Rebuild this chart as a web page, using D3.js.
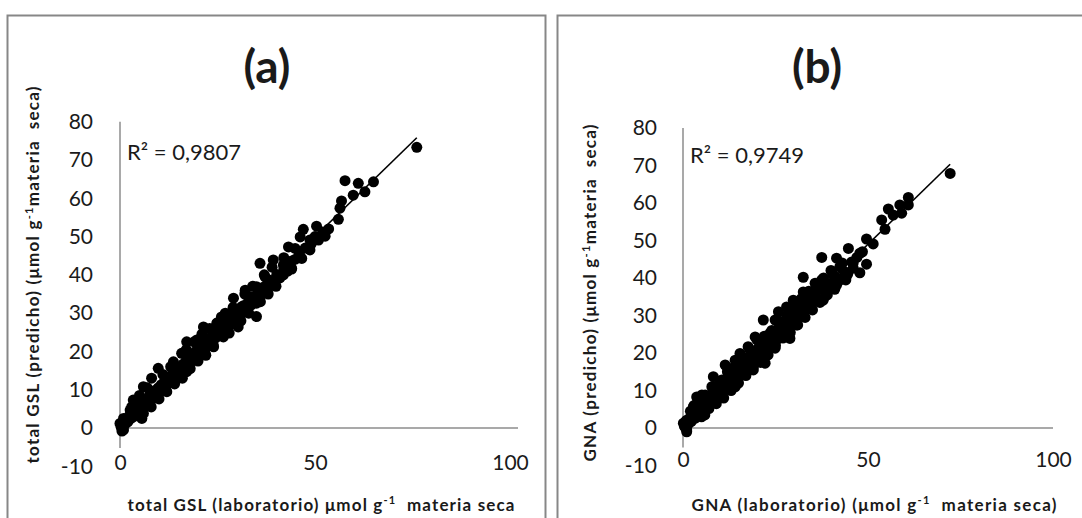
<!DOCTYPE html>
<html>
<head>
<meta charset="utf-8">
<script src="https://cdn.jsdelivr.net/npm/d3@7"></script>
<style>
  body { margin: 0; background: #fff; }
  text { font-family: Lato, "Open Sans", sans-serif; fill: #1a1a1a; white-space: pre; }
</style>
</head>
<body>
<svg id="chart" width="1082" height="518"></svg>
<script>
// tick values and labels
const yTicks = [-10, 0, 10, 20, 30, 40, 50, 60, 70, 80];
const xTicks = [0, 50, 100];
const panelTitles = ["(a)", "(b)"];
const r2Labels = ["R² = 0,9807", "R² = 0,9749"];

// (a) total GSL: [laboratorio, predicho]
const gslPoints = [
  [76.1,73.3],[57.7,64.6],[65.0,64.3],[61.1,63.9],[62.8,61.7],[59.8,60.8],[56.8,59.3],[56.4,57.4],
  [56.0,54.5],[50.4,52.7],[47.0,51.9],[52.6,50.1],[50.9,49.1],[48.7,49.1],[46.2,49.9],[43.2,47.3],
  [44.9,46.9],[48.7,46.5],[46.6,44.3],[35.9,43.0],[39.3,43.9],[41.9,42.6],[44.0,41.7],[41.9,40.0],
  [39.7,37.8],[37.2,39.5],[35.0,36.9],[32.1,36.0],[33.3,34.3],[35.0,32.6],[29.1,33.9],[31.2,31.7],
  [35.0,29.1],[28.2,29.9],[30.3,26.4],[26.9,27.8],[24.8,27.3],[21.4,26.4],[26.5,23.8],[23.9,21.7],
  [17.1,22.5],[19.7,23.0],[21.8,19.5],[18.8,18.2],[15.8,19.5],[13.7,17.3],[17.1,14.7],[14.9,13.0],
  [9.8,15.6],[8.1,13.0],[6.0,10.8],[11.5,11.2],[9.4,9.1],[7.7,6.9],[3.4,7.3],[5.6,2.5],
  [2.6,4.7],[0.9,2.5],[0.9,-0.5],[0.0,1.2],
  [0.3,0.2],[0.5,-0.8],[0.8,1.5],[1.2,0.9],[1.5,2.0],[2.0,1.6],[2.3,3.1],[2.8,2.5],
  [3.1,3.8],[3.5,3.0],[3.9,4.6],[4.2,3.9],[4.6,5.3],[5.0,4.4],[5.3,6.0],[5.7,5.2],
  [6.1,6.8],[6.4,5.8],[6.8,7.4],[7.2,6.5],[7.5,8.3],[7.9,7.2],[8.3,9.0],[8.6,8.0],
  [9.0,9.8],[9.4,8.7],[9.8,10.5],[10.2,9.4],[10.6,11.3],[11.0,10.2],[11.4,12.1],[11.8,11.0],
  [12.2,12.8],[12.6,11.8],[13.0,13.6],[13.4,12.5],[13.8,14.4],[14.2,13.3],[14.6,15.2],[15.0,14.0],
  [15.4,16.0],[15.8,14.9],[16.2,16.7],[16.6,15.6],[17.0,17.6],[17.4,16.4],[17.8,18.3],[18.2,17.3],
  [18.6,19.2],[19.0,18.0],[19.4,20.0],[19.8,18.9],[20.2,20.8],[20.6,19.7],[21.0,21.5],[21.4,20.5],
  [21.8,22.4],[22.2,21.2],[22.6,23.1],[23.0,22.1],[23.5,24.0],[24.0,22.9],[24.5,25.0],[25.0,23.9],
  [25.5,26.0],[26.0,24.8],[26.5,26.8],[27.0,25.9],[27.5,27.9],[28.0,26.8],[28.5,28.7],[29.0,27.9],
  [29.5,29.8],[30.0,28.8],[30.6,30.9],[31.2,29.9],[31.8,32.0],[32.4,31.0],[33.0,33.2],[33.6,32.1],
  [34.2,34.3],[34.8,33.4],[35.5,35.5],[36.2,34.8],[37.0,36.9],[37.8,36.2],[38.5,38.6],[39.3,37.9],
  [40.2,40.1],[41.0,39.2],[42.0,41.5],[43.0,41.0],[44.0,43.6],[45.0,44.1],[46.0,45.5],[47.5,47.0],
  [49.0,48.0],[50.0,50.0],[52.0,51.2],[53.5,52.0],
  [4.0,6.5],[3.0,5.5],[6.0,3.8],[8.0,5.5],[10.0,7.6],[12.0,9.5],[14.0,11.5],[5.0,8.5],
  [7.0,10.5],[11.0,14.0],[13.0,16.0],[16.0,13.0],[18.0,15.5],[20.0,17.5],[22.0,19.0],[24.0,21.2],
  [17.0,20.5],[19.0,22.5],[21.0,24.5],[23.0,26.0],[25.0,27.5],[27.0,30.0],[29.0,31.5],[31.0,28.0],
  [33.0,30.0],[28.0,24.8],[26.0,29.0],[32.0,35.0],[34.0,37.0],[36.0,33.0],[38.0,35.0],[40.0,37.0],
  [37.0,40.0],[39.0,42.0],[42.0,44.5],[44.0,41.5]
];

// (b) GNA: [laboratorio, predicho]
const gnaPoints = [
  [72.2,67.9],[60.9,61.5],[58.6,59.5],[60.9,59.5],[55.5,58.4],[56.8,56.8],[59.1,57.3],[53.7,55.5],
  [54.6,53.0],[49.6,50.4],[51.4,49.1],[44.7,47.9],[47.8,46.6],[37.5,45.5],[41.5,45.3],[45.6,44.3],
  [49.6,43.7],[46.0,42.6],[47.8,41.4],[42.4,43.0],[40.6,40.8],[32.5,40.2],[37.5,39.5],[35.7,38.6],
  [41.5,38.1],[32.5,36.3],[37.9,34.1],[34.8,33.2],[29.8,34.1],[28.0,32.3],[25.8,31.0],[31.6,30.6],
  [21.7,28.8],[24.9,28.8],[29.4,28.3],[30.7,27.5],[26.2,26.1],[23.5,25.3],[28.9,23.9],[19.5,24.3],
  [20.8,22.6],[24.9,21.3],[22.2,17.3],[17.6,21.7],[15.4,19.9],[17.2,18.1],[19.0,16.3],[14.1,18.1],
  [11.4,16.8],[13.6,15.5],[15.4,14.1],[8.2,13.7],[10.5,12.8],[14.1,11.0],[12.7,13.7],[7.8,11.0],
  [10.5,8.8],[3.7,8.3],[5.1,8.8],[5.9,6.6],[2.8,5.7],[5.9,3.5],[2.8,3.0],[1.0,2.1],
  [0.5,0.3],[1.0,-1.0],[1.0,-0.5],[0.1,1.3],
  [0.4,0.5],[0.8,1.8],[1.3,0.9],[1.8,2.6],[2.2,1.7],[2.7,3.5],[3.2,2.6],[3.6,4.6],
  [4.1,3.4],[4.5,5.5],[5.0,4.3],[5.5,6.4],[6.0,5.2],[6.4,7.4],[6.9,6.1],[7.4,8.4],
  [7.9,7.0],[8.4,9.4],[8.9,8.0],[9.4,10.3],[9.9,9.0],[10.4,11.3],[10.9,9.9],[11.4,12.3],
  [11.9,10.8],[12.4,13.3],[12.9,11.8],[13.4,14.3],[13.9,12.7],[14.4,15.3],[14.9,13.7],[15.4,16.3],
  [15.9,14.6],[16.4,17.3],[16.9,15.6],[17.4,18.3],[17.9,16.5],[18.4,19.3],[18.9,17.5],[19.4,20.3],
  [19.9,18.5],[20.4,21.3],[20.9,19.4],[21.4,22.3],[21.9,20.4],[22.4,23.3],[22.9,21.3],[23.5,24.4],
  [24.1,22.5],[24.7,25.6],[25.3,23.6],[25.9,26.7],[26.5,24.8],[27.1,27.9],[27.7,26.0],[28.3,29.0],
  [28.9,27.2],[29.5,30.2],[30.1,28.4],[30.8,31.5],[31.5,29.7],[32.2,32.8],[33.0,31.2],[33.8,34.3],
  [34.6,32.8],[35.5,35.6],[36.5,34.5],[37.5,37.0],[38.5,36.2],[39.5,38.5],[40.5,37.8],[41.5,40.0],
  [42.5,39.5],[43.5,41.8],[44.5,41.0],[46.0,44.0],[47.0,45.5],[48.5,47.0],
  [2.0,4.5],[3.0,6.0],[4.0,7.5],[5.0,3.0],[6.0,8.8],[7.0,5.2],[8.0,11.0],[9.0,6.5],
  [10.0,12.5],[11.0,8.0],[12.0,15.0],[13.0,10.0],[14.0,16.5],[15.0,12.0],[16.0,19.0],[17.0,14.0],
  [18.0,21.0],[19.0,15.5],[20.0,23.5],[21.0,17.5],[22.0,24.5],[23.0,19.5],[24.0,26.0],[25.0,22.0],
  [26.0,28.5],[27.0,24.0],[28.0,30.0],[29.0,25.5],[30.0,32.0],[31.0,27.5],[32.0,34.5],[33.0,29.5],
  [34.0,36.5],[35.0,31.5],[36.0,38.0],[37.0,33.5],[38.0,40.0],[39.0,35.5],[40.0,42.0],[41.0,37.0],
  [43.0,44.0],[44.0,39.5]
];

const svg = d3.select("#chart");

const panels = [
  {
    title: panelTitles[0], r2: r2Labels[0], data: gslPoints,
    box: [7, 15, 538, 530], titleX: 267,
    xRange: [120, 510], yRange: [466.3, 121.7], axisEnd: 518,
    yLabelX: 93, xLabelY: 463, r2X: 127, r2Y: 160,
    yTitle: ["total GSL (predicho) (μmol g", "-1", "materia  seca)"], yTitleX: 33, yTitleY: 275, yTitleLen: 377,
    xTitle: ["total GSL (laboratorio) μmol g", "-1", "  materia seca"], xTitleX: 321, xTitleY: 505, xTitleLen: 387
  },
  {
    title: panelTitles[1], r2: r2Labels[1], data: gnaPoints,
    box: [557, 15, 540, 530], titleX: 817,
    xRange: [683, 1053], yRange: [465.5, 128], axisEnd: 1053,
    yLabelX: 657, xLabelY: 460, r2X: 690, r2Y: 163,
    yTitle: ["GNA (predicho) (μmol g", "-1", "materia  seca)"], yTitleX: 590, yTitleY: 293, yTitleLen: 337,
    xTitle: ["GNA (laboratorio) (μmol g", "-1", "  materia seca)"], xTitleX: 874, xTitleY: 505, xTitleLen: 365
  }
];

function addSupText(sel, parts, size) {
  sel.append("tspan").text(parts[0]);
  sel.append("tspan").attr("font-size", size * 0.65).attr("dy", -size * 0.38).text(parts[1]);
  sel.append("tspan").attr("dy", size * 0.38).text(parts[2]);
}

function drawPanel(p) {
  const g = svg.append("g");

  g.append("rect")
    .attr("x", p.box[0] + 0.5).attr("y", p.box[1] + 0.5)
    .attr("width", p.box[2]).attr("height", p.box[3])
    .attr("fill", "none").attr("stroke", "#878787").attr("stroke-width", 2);

  const x = d3.scaleLinear().domain([0, 100]).range(p.xRange);
  const y = d3.scaleLinear().domain([-10, 80]).range(p.yRange);

  // axis lines (Excel style, crossing at 0)
  g.append("line")
    .attr("x1", x(0)).attr("x2", x(0))
    .attr("y1", y(80)).attr("y2", y(-5.2))
    .attr("stroke", "#8c8c8c").attr("stroke-width", 1.5);
  g.append("line")
    .attr("x1", x(0)).attr("x2", p.axisEnd)
    .attr("y1", y(0)).attr("y2", y(0))
    .attr("stroke", "#8c8c8c").attr("stroke-width", 1.5);

  const yAxis = g.append("g")
    .attr("transform", "translate(" + p.yLabelX + ",0)")
    .call(d3.axisLeft(y).tickValues(yTicks).tickFormat(d => String(d)).tickSize(0).tickPadding(0));
  yAxis.select(".domain").remove();
  yAxis.selectAll("text").attr("font-size", 21).attr("font-family", "Lato").attr("fill", "#1a1a1a");

  const xAxis = g.append("g")
    .attr("transform", "translate(0," + p.xLabelY + ")")
    .call(d3.axisBottom(x).tickValues(xTicks).tickFormat(d => String(d)).tickSize(0).tickPadding(0));
  xAxis.select(".domain").remove();
  xAxis.selectAll("text").attr("dy", "0.35em")
    .attr("font-size", 21).attr("font-family", "Lato").attr("fill", "#1a1a1a");

  // points
  g.selectAll("circle.pt")
    .data(p.data)
    .enter().append("circle")
    .attr("class", "pt")
    .attr("cx", d => x(d[0]))
    .attr("cy", d => y(d[1]))
    .attr("r", 5.5)
    .attr("fill", "#000");

  // linear trend line
  const mx = d3.mean(p.data, d => d[0]), my = d3.mean(p.data, d => d[1]);
  const sxy = d3.sum(p.data, d => (d[0] - mx) * (d[1] - my));
  const sxx = d3.sum(p.data, d => (d[0] - mx) * (d[0] - mx));
  const slope = sxy / sxx, icpt = my - slope * mx;
  const [x0, x1] = d3.extent(p.data, d => d[0]);
  g.append("line")
    .attr("x1", x(x0)).attr("y1", y(icpt + slope * x0))
    .attr("x2", x(x1)).attr("y2", y(icpt + slope * x1))
    .attr("stroke", "#000").attr("stroke-width", 1.6);

  g.append("text")
    .attr("x", p.r2X).attr("y", p.r2Y)
    .attr("font-size", 22)
    .text(p.r2);

  g.append("text")
    .attr("x", p.titleX).attr("y", 83)
    .attr("text-anchor", "middle")
    .attr("font-size", 46).attr("font-weight", "bold")
    .text(p.title);

  const yt = g.append("text")
    .attr("transform", "translate(" + p.yTitleX + "," + p.yTitleY + ") rotate(-90)")
    .attr("text-anchor", "middle").attr("dy", "0.35em")
    .attr("font-size", 17).attr("font-weight", "bold")
    .attr("textLength", p.yTitleLen).attr("lengthAdjust", "spacing");
  addSupText(yt, p.yTitle, 17);

  const xt = g.append("text")
    .attr("x", p.xTitleX).attr("y", p.xTitleY)
    .attr("text-anchor", "middle").attr("dy", "0.35em")
    .attr("font-size", 17).attr("font-weight", "bold")
    .attr("textLength", p.xTitleLen).attr("lengthAdjust", "spacing");
  addSupText(xt, p.xTitle, 17);
}

panels.forEach(drawPanel);
</script>
</body>
</html>
